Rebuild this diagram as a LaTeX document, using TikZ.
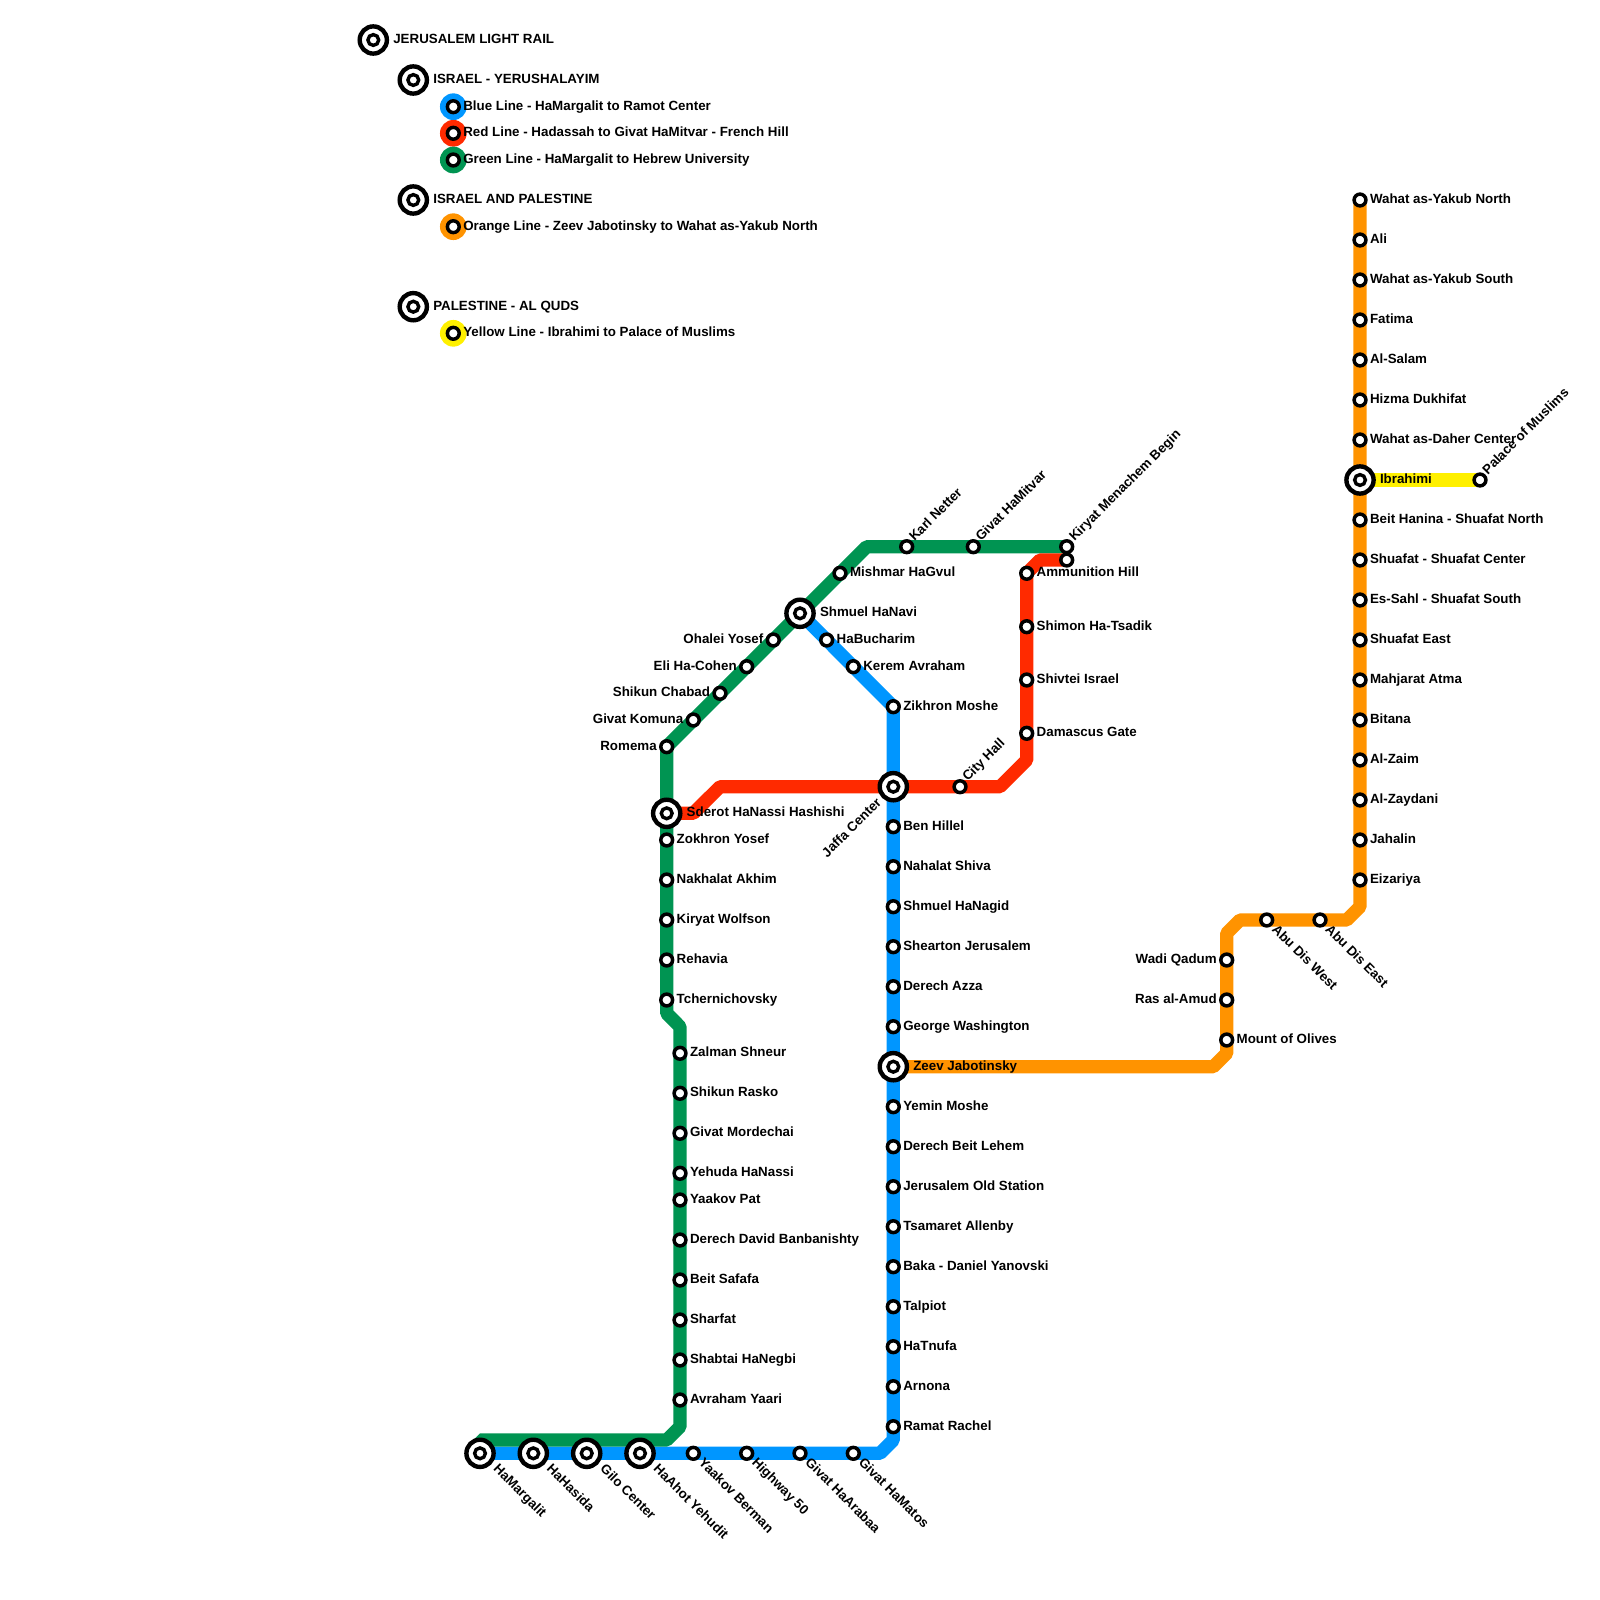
\documentclass[tikz,border=0pt]{standalone}
\usepackage{fontspec}
\setmainfont{Liberation Sans}
\usepackage{xcolor}
\usepackage{tikz}
\usetikzlibrary{backgrounds}
\definecolor{railBlue}{HTML}{0096FF}
\definecolor{railRed}{HTML}{FF2A00}
\definecolor{railGreen}{HTML}{009452}
\definecolor{railOrange}{HTML}{FF9300}
\definecolor{railYellow}{HTML}{FFF000}

\begin{document}
\begin{tikzpicture}[
  x=0.5pt, y=-0.5pt,
  stn/.style={circle, draw=black, fill=white, line width=1.75pt, minimum size=5.9pt, inner sep=0pt, outer sep=0pt},
  hub/.style={circle, draw=black, fill=white, line width=2.2pt, minimum size=13.6pt, inner sep=0pt, outer sep=0pt,
    path picture={\draw[line width=1.7pt] (path picture bounding box.center) circle (2.7pt);}},
  disc/.style={circle, minimum size=13.35pt, inner sep=0pt, outer sep=0pt, fill=#1},
  rail/.style={line width=6.67pt, line join=bevel, draw=#1},
  lbl/.style={inner sep=0pt, outer sep=0pt, text=black, font=\fontsize{6.67}{8}\selectfont\bfseries},
  txtR/.style={append after command={(\tikzlastnode.center) node[lbl, anchor=base west, xshift=5pt, yshift=-1.7pt] {#1}}},
  txtL/.style={append after command={(\tikzlastnode.center) node[lbl, anchor=base east, xshift=-5pt, yshift=-1.7pt] {#1}}},
  txtUp/.style={append after command={(\tikzlastnode.center) node[lbl, xshift=3.9pt, yshift=2.4pt, rotate=45, anchor=base west] {#1}}},
  txtDn/.style={append after command={(\tikzlastnode.center) node[lbl, xshift=2.35pt, yshift=-5.1pt, rotate=-45, anchor=base west] {#1}}},
  hubR/.style={append after command={(\tikzlastnode.center) node[lbl, anchor=base west, xshift=10pt, yshift=-1.7pt] {#1}}},
  hubDn/.style={append after command={(\tikzlastnode.center) node[lbl, xshift=6.4pt, yshift=-8.2pt, rotate=-45, anchor=base west] {#1}}},
  hubLow/.style={append after command={(\tikzlastnode.center) node[lbl, xshift=-5.65pt, yshift=-8.4pt, rotate=45, anchor=base east] {#1}}}
]
\useasboundingbox (0,0) rectangle (1600,1600);

\node[hub, hubR=JERUSALEM LIGHT RAIL] (title) at (373.3,40) {};
\node[hub, hubR=ISRAEL - YERUSHALAYIM] (israel) at (413.3,80) {};
\node[disc=railBlue] (keyBlueDisc) at (453.3,106.7) {};
\node[stn, txtR=Blue Line - HaMargalit to Ramot Center] (keyBlue) at (453.3,106.7) {};
\node[disc=railRed] (keyRedDisc) at (453.3,133.3) {};
\node[stn, txtR=Red Line - Hadassah to Givat HaMitvar - French Hill] (keyRed) at (453.3,133.3) {};
\node[disc=railGreen] (keyGreenDisc) at (453.3,160) {};
\node[stn, txtR=Green Line - HaMargalit to Hebrew University] (keyGreen) at (453.3,160) {};
\node[hub, hubR=ISRAEL AND PALESTINE] (both) at (413.3,200) {};
\node[disc=railOrange] (keyOrangeDisc) at (453.3,226.7) {};
\node[stn, txtR=Orange Line - Zeev Jabotinsky to Wahat as-Yakub North] (keyOrange) at (453.3,226.7) {};
\node[hub, hubR=PALESTINE - AL QUDS] (palestine) at (413.3,306.7) {};
\node[disc=railYellow] (keyYellowDisc) at (453.3,333.3) {};
\node[stn, txtR=Yellow Line - Ibrahimi to Palace of Muslims] (keyYellow) at (453.3,333.3) {};

\node[hub, hubDn=HaMargalit] (margalit) at (480,1453.3) {};
\node[hub, hubDn=HaHasida] (hasida) at (533.3,1453.3) {};
\node[hub, hubDn=Gilo Center] (gilo) at (586.7,1453.3) {};
\node[hub, hubDn=HaAhot Yehudit] (ahot) at (640,1453.3) {};
\node[stn, txtDn=Yaakov Berman] (berman) at (693.3,1453.3) {};
\node[stn, txtDn=Highway 50] (highway) at (746.7,1453.3) {};
\node[stn, txtDn=Givat HaArabaa] (arabaa) at (800,1453.3) {};
\node[stn, txtDn=Givat HaMatos] (matos) at (853.3,1453.3) {};
\node[stn, txtR=Ramat Rachel] (rachel) at (893.3,1426.7) {};
\node[stn, txtR=Arnona] (arnona) at (893.3,1386.7) {};
\node[stn, txtR=HaTnufa] (tnufa) at (893.3,1346.7) {};
\node[stn, txtR=Talpiot] (talpiot) at (893.3,1306.7) {};
\node[stn, txtR=Baka - Daniel Yanovski] (baka) at (893.3,1266.7) {};
\node[stn, txtR=Tsamaret Allenby] (allenby) at (893.3,1226.7) {};
\node[stn, txtR=Jerusalem Old Station] (oldstation) at (893.3,1186.7) {};
\node[stn, txtR=Derech Beit Lehem] (lehem) at (893.3,1146.7) {};
\node[stn, txtR=Yemin Moshe] (yemin) at (893.3,1106.7) {};
\node[hub, hubR=Zeev Jabotinsky] (zeev) at (893.3,1066.7) {};
\node[stn, txtR=George Washington] (washington) at (893.3,1026.7) {};
\node[stn, txtR=Derech Azza] (azza) at (893.3,986.7) {};
\node[stn, txtR=Shearton Jerusalem] (shearton) at (893.3,946.7) {};
\node[stn, txtR=Shmuel HaNagid] (nagid) at (893.3,906.7) {};
\node[stn, txtR=Nahalat Shiva] (shiva) at (893.3,866.7) {};
\node[stn, txtR=Ben Hillel] (hillel) at (893.3,826.7) {};
\node[hub, hubLow=Jaffa Center] (jaffa) at (893.3,786.7) {};
\node[stn, txtR=Zikhron Moshe] (zikhron) at (893.3,706.7) {};
\node[stn, txtR=Kerem Avraham] (kerem) at (853.3,666.7) {};
\node[stn, txtR=HaBucharim] (bucharim) at (826.7,640) {};
\node[hub, hubR=Shmuel HaNavi] (navi) at (800,613.3) {};

\node[stn, txtR=Avraham Yaari] (yaari) at (680,1400) {};
\node[stn, txtR=Shabtai HaNegbi] (negbi) at (680,1360) {};
\node[stn, txtR=Sharfat] (sharfat) at (680,1320) {};
\node[stn, txtR=Beit Safafa] (safafa) at (680,1280) {};
\node[stn, txtR=Derech David Banbanishty] (banbanishty) at (680,1240) {};
\node[stn, txtR=Yaakov Pat] (pat) at (680,1200) {};
\node[stn, txtR=Yehuda HaNassi] (nassi) at (680,1173.3) {};
\node[stn, txtR=Givat Mordechai] (mordechai) at (680,1133.3) {};
\node[stn, txtR=Shikun Rasko] (rasko) at (680,1093.3) {};
\node[stn, txtR=Zalman Shneur] (shneur) at (680,1053.3) {};
\node[stn, txtR=Tchernichovsky] (tcherni) at (666.7,1000) {};
\node[stn, txtR=Rehavia] (rehavia) at (666.7,960) {};
\node[stn, txtR=Kiryat Wolfson] (wolfson) at (666.7,920) {};
\node[stn, txtR=Nakhalat Akhim] (akhim) at (666.7,880) {};
\node[stn, txtR=Zokhron Yosef] (zokhron) at (666.7,840) {};
\node[hub, hubR=Sderot HaNassi Hashishi] (sderot) at (666.7,813.3) {};
\node[stn, txtL=Romema] (romema) at (666.7,746.7) {};
\node[stn, txtL=Givat Komuna] (komuna) at (693.3,720) {};
\node[stn, txtL=Shikun Chabad] (chabad) at (720,693.3) {};
\node[stn, txtL=Eli Ha-Cohen] (cohen) at (746.7,666.7) {};
\node[stn, txtL=Ohalei Yosef] (ohalei) at (773.3,640) {};
\node[stn, txtR=Mishmar HaGvul] (mishmar) at (840,573.3) {};
\node[stn, txtUp=Karl Netter] (netter) at (906.7,546.7) {};
\node[stn, txtUp=Givat HaMitvar] (mitvar) at (973.3,546.7) {};
\node[stn, txtUp=Kiryat Menachem Begin] (begin) at (1066.7,546.7) {};

\node[stn, txtUp=City Hall] (cityhall) at (960,786.7) {};
\node[stn, txtR=Damascus Gate] (damascus) at (1026.7,733.3) {};
\node[stn, txtR=Shivtei Israel] (shivtei) at (1026.7,680) {};
\node[stn, txtR=Shimon Ha-Tsadik] (shimon) at (1026.7,626.7) {};
\node[stn, txtR=Ammunition Hill] (ammunition) at (1026.7,573.3) {};
\node[stn] (hadassah) at (1066.7,560) {};

\node[stn, txtR=Mount of Olives] (olives) at (1226.7,1040) {};
\node[stn, txtL=Ras al-Amud] (amud) at (1226.7,1000) {};
\node[stn, txtL=Wadi Qadum] (qadum) at (1226.7,960) {};
\node[stn, txtDn=Abu Dis West] (diswest) at (1266.7,920) {};
\node[stn, txtDn=Abu Dis East] (diseast) at (1320,920) {};
\node[stn, txtR=Eizariya] (eizariya) at (1360,880) {};
\node[stn, txtR=Jahalin] (jahalin) at (1360,840) {};
\node[stn, txtR=Al-Zaydani] (zaydani) at (1360,800) {};
\node[stn, txtR=Al-Zaim] (zaim) at (1360,760) {};
\node[stn, txtR=Bitana] (bitana) at (1360,720) {};
\node[stn, txtR=Mahjarat Atma] (atma) at (1360,680) {};
\node[stn, txtR=Shuafat East] (shuafateast) at (1360,640) {};
\node[stn, txtR=Es-Sahl - Shuafat South] (essahl) at (1360,600) {};
\node[stn, txtR=Shuafat - Shuafat Center] (shuafat) at (1360,560) {};
\node[stn, txtR=Beit Hanina - Shuafat North] (hanina) at (1360,520) {};
\node[hub, hubR=Ibrahimi] (ibrahimi) at (1360,480) {};
\node[stn, txtR=Wahat as-Daher Center] (daher) at (1360,440) {};
\node[stn, txtR=Hizma Dukhifat] (hizma) at (1360,400) {};
\node[stn, txtR=Al-Salam] (salam) at (1360,360) {};
\node[stn, txtR=Fatima] (fatima) at (1360,320) {};
\node[stn, txtR=Wahat as-Yakub South] (yakubsouth) at (1360,280) {};
\node[stn, txtR=Ali] (ali) at (1360,240) {};
\node[stn, txtR=Wahat as-Yakub North] (yakubnorth) at (1360,200) {};
\node[stn, txtUp=Palace of Muslims] (palace) at (1480,480) {};

\coordinate (blueA) at (880,1453.3);
\coordinate (blueB) at (893.3,1440);
\coordinate (greenA) at (480,1440);
\coordinate (greenB) at (666.7,1440);
\coordinate (greenC) at (680,1426.7);
\coordinate (greenD) at (680,1026.7);
\coordinate (greenE) at (666.7,1013.3);
\coordinate (greenF) at (866.7,546.7);
\coordinate (redA) at (693.3,813.3);
\coordinate (redB) at (720,786.7);
\coordinate (redC) at (1000,786.7);
\coordinate (redD) at (1026.7,760);
\coordinate (redE) at (1040,560);
\coordinate (orangeA) at (1213.3,1066.7);
\coordinate (orangeB) at (1226.7,1053.3);
\coordinate (orangeC) at (1226.7,933.3);
\coordinate (orangeD) at (1240,920);
\coordinate (orangeE) at (1346.7,920);
\coordinate (orangeF) at (1360,906.7);

\begin{pgfonlayer}{background}
\draw[rail=railBlue] (margalit.center) -- (hasida.center) -- (gilo.center) -- (ahot.center) -- (berman.center) -- (highway.center) -- (arabaa.center) -- (matos.center) -- (blueA) -- (blueB) -- (rachel.center) -- (arnona.center) -- (tnufa.center) -- (talpiot.center) -- (baka.center) -- (allenby.center) -- (oldstation.center) -- (lehem.center) -- (yemin.center) -- (zeev.center) -- (washington.center) -- (azza.center) -- (shearton.center) -- (nagid.center) -- (shiva.center) -- (hillel.center) -- (jaffa.center) -- (zikhron.center) -- (kerem.center) -- (bucharim.center) -- (navi.center);
\draw[rail=railGreen] (margalit.center) -- (greenA) -- (greenB) -- (greenC) -- (yaari.center) -- (negbi.center) -- (sharfat.center) -- (safafa.center) -- (banbanishty.center) -- (pat.center) -- (nassi.center) -- (mordechai.center) -- (rasko.center) -- (shneur.center) -- (greenD) -- (greenE) -- (tcherni.center) -- (rehavia.center) -- (wolfson.center) -- (akhim.center) -- (zokhron.center) -- (sderot.center) -- (romema.center) -- (komuna.center) -- (chabad.center) -- (cohen.center) -- (ohalei.center) -- (navi.center) -- (mishmar.center) -- (greenF) -- (netter.center) -- (mitvar.center) -- (begin.center);
\draw[rail=railRed] (sderot.center) -- (redA) -- (redB) -- (jaffa.center) -- (cityhall.center) -- (redC) -- (redD) -- (damascus.center) -- (shivtei.center) -- (shimon.center) -- (ammunition.center) -- (redE) -- (hadassah.center);
\draw[rail=railOrange] (zeev.center) -- (orangeA) -- (orangeB) -- (olives.center) -- (amud.center) -- (qadum.center) -- (orangeC) -- (orangeD) -- (diswest.center) -- (diseast.center) -- (orangeE) -- (orangeF) -- (eizariya.center) -- (jahalin.center) -- (zaydani.center) -- (zaim.center) -- (bitana.center) -- (atma.center) -- (shuafateast.center) -- (essahl.center) -- (shuafat.center) -- (hanina.center) -- (ibrahimi.center) -- (daher.center) -- (hizma.center) -- (salam.center) -- (fatima.center) -- (yakubsouth.center) -- (ali.center) -- (yakubnorth.center);
\draw[rail=railYellow] (ibrahimi.center) -- (palace.center);
\end{pgfonlayer}
\end{tikzpicture}
\end{document}
